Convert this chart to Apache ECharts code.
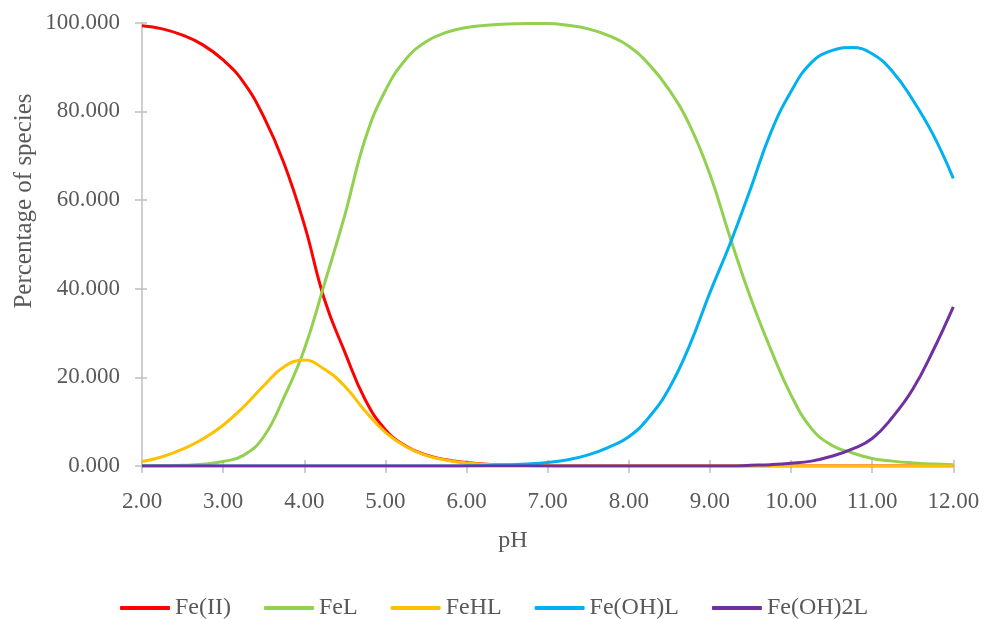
<!DOCTYPE html>
<html>
<head>
<meta charset="utf-8">
<script src="https://cdn.jsdelivr.net/npm/echarts@6/dist/echarts.min.js"></script>
<style>
html,body{margin:0;padding:0;background:#fff;}
#chart{width:985px;height:619px;}
</style>
</head>
<body>
<div id="chart"></div>
<script>
var pH = [2.00,2.25,2.50,2.75,3.00,3.25,3.50,3.75,4.00,4.25,4.50,4.75,5.00,5.25,5.50,5.75,6.00,6.25,6.50,6.75,7.00,
          7.25,7.50,7.75,8.00,8.25,8.50,8.75,9.00,9.25,9.50,9.75,10.00,10.25,10.50,10.75,11.00,11.25,11.50,11.75,12.00];

var feII = [99.3,98.6,97.2,95.0,91.6,86.6,78.8,68.3,54.5,37.5,25.7,15.0,8.2,4.5,2.5,1.4,0.8,0.4,0.2,0.1,0.05,
            0,0,0,0,0,0,0,0,0,0,0,0,0,0,0,0,0,0,0,0];
var feL = [0.0,0.05,0.15,0.4,1.0,2.4,6.6,15.5,26.3,41.2,56.6,73.7,84.7,91.7,95.7,97.8,98.9,99.4,99.7,99.8,99.8,
           99.4,98.6,97.1,94.7,90.6,84.8,76.9,65.8,51.5,38.0,26.3,16.0,8.5,4.7,3.0,1.7,1.1,0.7,0.45,0.3];
var feHL = [1.0,2.1,3.8,6.1,9.2,13.3,18.1,22.4,23.9,21.8,18.0,12.4,7.6,4.4,2.4,1.3,0.7,0.35,0.2,0.1,0.05,
            0,0,0,0,0,0,0,0,0,0,0,0,0,0,0,0,0,0,0,0];
var feOHL = [0,0,0,0,0,0,0,0,0,0,0,0,0,0,0,0,
             0.05,0.1,0.25,0.45,0.8,1.4,2.5,4.2,6.6,11.0,17.6,27.2,39.1,50.2,62.5,75.2,84.5,91.0,93.7,94.4,93.0,89.0,82.6,74.8,64.9];
var feOH2L = [0,0,0,0,0,0,0,0,0,0,0,0,0,0,0,0,0,0,0,0,0,0,0,0,0,0,0,0,0,0,
              0.15,0.3,0.6,1.1,2.2,3.8,6.2,11.0,17.3,26.0,35.9];

var names = ['Fe(II)','FeL','FeHL','Fe(OH)L','Fe(OH)2L'];
var colors = ['#FF0000','#92D050','#FFC000','#00B0F0','#7030A0'];
var values = [feII, feL, feHL, feOHL, feOH2L];

var yTitle = 'Percentage of species';
var xTitle = 'pH';

var FONT = 'Liberation Serif';
var TXT = '#595959';
var AX = '#BFBFBF';

function pairs(v){ return pH.map(function(x,i){ return [x, v[i]]; }); }

var series = names.map(function(n,i){
  return {
    name: n, type: 'line', data: pairs(values[i]),
    xAxisIndex: 0, yAxisIndex: 0,
    showSymbol: false, symbol: 'none', smooth: 0.45,
    lineStyle: {color: colors[i], width: 3},
    itemStyle: {color: colors[i]},
    clip: true, animation: false
  };
});

var chart = echarts.init(document.getElementById('chart'), null, {renderer: 'canvas'});
chart.setOption({
  animation: false,
  backgroundColor: '#ffffff',
  grid: {left: 142, right: 31.7, top: 22.7, bottom: 153, containLabel: false},
  xAxis: [{
    type: 'value', min: 2, max: 12, interval: 1, position: 'bottom',
    axisLine: {show: true, onZero: false, lineStyle: {color: AX, width: 1.5}},
    axisTick: {show: true, inside: false, length: 7, lineStyle: {color: AX, width: 1.5}},
    splitLine: {show: false},
    axisLabel: {margin: 24, color: TXT, fontFamily: FONT, fontSize: 23,
      formatter: function(v){ return v.toFixed(2); }}
  },{
    type: 'value', min: 2, max: 12, interval: 1, position: 'bottom',
    axisLine: {show: false, onZero: false},
    axisTick: {show: true, inside: true, length: 6, lineStyle: {color: AX, width: 1.5}},
    splitLine: {show: false}, axisLabel: {show: false}
  }],
  yAxis: [{
    type: 'value', min: 0, max: 100, interval: 20, position: 'left',
    axisLine: {show: true, onZero: false, lineStyle: {color: AX, width: 1.5}},
    axisTick: {show: true, inside: false, length: 7, lineStyle: {color: AX, width: 1.5}},
    splitLine: {show: false},
    axisLabel: {margin: 22, color: TXT, fontFamily: FONT, fontSize: 23,
      formatter: function(v){ return v.toFixed(3); }}
  },{
    type: 'value', min: 0, max: 100, interval: 20, position: 'left',
    axisLine: {show: false, onZero: false},
    axisTick: {show: true, inside: true, length: 5, lineStyle: {color: AX, width: 1.5}},
    splitLine: {show: false}, axisLabel: {show: false}
  }],
  legend: {
    data: names, left: 120, top: 596, padding: 0, orient: 'horizontal',
    icon: 'roundRect', itemWidth: 50, itemHeight: 4, itemGap: 33,
    textStyle: {color: TXT, fontFamily: FONT, fontSize: 24}
  },
  graphic: [{
    type: 'text', x: 24, y: 201, rotation: Math.PI/2,
    style: {text: yTitle, fill: TXT, font: '25px "Liberation Serif"', textAlign: 'center', textVerticalAlign: 'middle'}
  },{
    type: 'text', x: 513, y: 541,
    style: {text: xTitle, fill: TXT, font: '24px "Liberation Serif"', textAlign: 'center', textVerticalAlign: 'middle'}
  }],
  series: series
});
</script>
</body>
</html>
